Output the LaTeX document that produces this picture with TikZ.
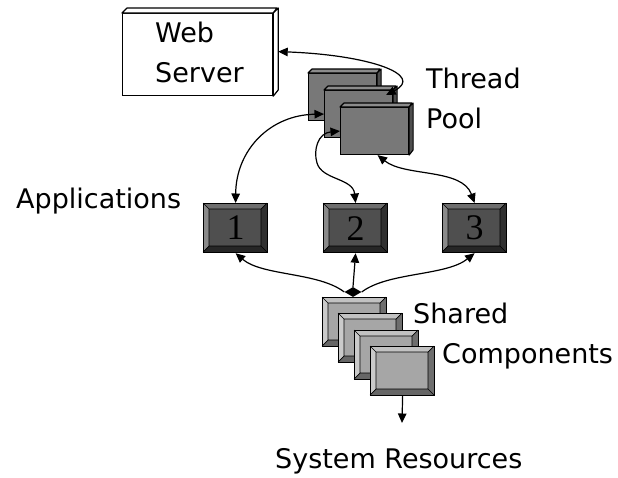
\documentclass[tikz,border=0pt]{standalone}
\usepackage{fontspec}
\setmainfont{DejaVu Sans}
\newfontfamily\numfont{Liberation Serif}
\usetikzlibrary{arrows.meta,shapes.geometric}

% dark bevelled boxes (applications)
\definecolor{dkmid}{HTML}{4F4F4F}
\definecolor{dktop}{HTML}{6E6E6E}
\definecolor{dkleft}{HTML}{8A8A8A}
\definecolor{dkright}{HTML}{303030}
\definecolor{dkbot}{HTML}{262626}
% light bevelled boxes (shared components)
\definecolor{ltmid}{HTML}{A6A6A6}
\definecolor{lttop}{HTML}{C2C2C2}
\definecolor{ltleft}{HTML}{CACACA}
\definecolor{ltright}{HTML}{6E6E6E}
\definecolor{ltbot}{HTML}{666666}
% thread pool slabs
\definecolor{tpfront}{HTML}{787878}
\definecolor{tptop}{HTML}{8C8C8C}
\definecolor{tpside}{HTML}{4E4E4E}

\tikzset{
  x=1pt, y=-1pt,
  lbl/.style={inner sep=0pt, anchor=base west, align=left,
              font=\fontsize{27}{40}\selectfont},
  bevframe/.style={draw, line width=1.2pt, minimum width=64pt, minimum height=49pt,
                   inner sep=0pt, anchor=north west,
                   font=\numfont\fontsize{36}{36}\selectfont},
  bevline/.style={line width=0.7pt},
  slab/.style={draw, fill=tpfront, line width=1.1pt, minimum width=68pt,
               minimum height=47pt, inner sep=0pt, anchor=north west},
  facetop/.style={fill=tptop, draw, line width=1.1pt, line join=round},
  faceside/.style={fill=tpside, draw, line width=1.1pt, line join=round},
  tip/.tip={Triangle[length=9.5pt,width=8.5pt]},
  link/.style={line width=1.2pt, tip-tip},
  oneway/.style={line width=1.2pt, -tip},
}

% bevelled box: name, x, y, colour prefix, text
\newcommand\bevelbox[5]{%
  \begin{scope}[shift={(#2,#3)}]
    \fill[#4mid] (0,0) rectangle (64,49);
    \fill[#4top] (0,0) -- (64,0) -- (58,6) -- (6,6) -- cycle;
    \fill[#4left] (0,0) -- (6,6) -- (6,43) -- (0,49) -- cycle;
    \fill[#4right] (64,0) -- (58,6) -- (58,43) -- (64,49) -- cycle;
    \fill[#4bot] (0,49) -- (6,43) -- (58,43) -- (64,49) -- cycle;
    \draw[bevline] (6,6) rectangle (58,43)
      (0,0) -- (6,6) (64,0) -- (58,6) (0,49) -- (6,43) (64,49) -- (58,43);
  \end{scope}
  \node[bevframe] (#1) at (#2,#3) {#5};
}

% thread-pool slab with a thin top and side face: name, x, y
\newcommand\slabbox[3]{%
  \node[slab] (#1) at (#2,#3) {};
  \path[facetop] (#1.north west) -- ++(4,-4) -- ++(68,0) -- (#1.north east) -- cycle;
  \path[faceside] (#1.north east) -- ++(4,-4) -- ++(0,47) -- (#1.south east) -- cycle;
}

\begin{document}
\begin{tikzpicture}
  \fill[white] (0,0) rectangle (618,477);
  \useasboundingbox (0,0) rectangle (618,477);

  % web server
  \node[draw, fill=white, line width=1.2pt, minimum width=150pt, minimum height=82pt,
        inner sep=0pt, anchor=north west] (web) at (122,13) {};
  \path[draw, fill=white, line width=1.2pt, line join=round]
    (web.north west) -- ++(5,-5) -- ++(150,0) -- (web.north east) -- cycle;
  \path[draw, fill=white, line width=1.2pt, line join=round]
    (web.north east) -- ++(5,-5) -- ++(0,82) -- (web.south east) -- cycle;
  % anchor of a two-line label is the baseline of its last line
  \node[lbl] (weblbl) at (155,82) {Web\\Server};

  % thread pool
  \slabbox{tp1}{308}{73}
  \slabbox{tp2}{324}{90}
  \slabbox{tp3}{340}{107}
  \node[lbl] (tplbl) at (426,128) {Thread\\Pool};

  % applications
  \bevelbox{app1}{203}{203}{dk}{1}
  \bevelbox{app2}{323}{203}{dk}{2}
  \bevelbox{app3}{442}{203}{dk}{3}
  \node[lbl] (applbl) at (16,208) {Applications};

  % shared components
  \bevelbox{sc1}{322}{297}{lt}{}
  \bevelbox{sc2}{338}{313}{lt}{}
  \bevelbox{sc3}{354}{330}{lt}{}
  \bevelbox{sc4}{370}{346}{lt}{}
  \node[lbl] (shlbl) at (413,323) {Shared};
  \node[lbl] (cmplbl) at (442,363) {Components};

  % system resources
  \node[lbl] (syslbl) at (275,468) {System Resources};
  \coordinate (sysin) at (402,423);

  % hub joining the applications to the shared components
  \node[diamond, fill=black, inner sep=0pt, minimum width=17pt, minimum height=10pt]
    (hub) at (353,292) {};

  % connectors
  \draw[link] ([shift={(5pt,3pt)}]web.east)
    .. controls (370,55) and (425,75) .. ([shift={(-7pt,-5pt)}]tp2.north east);
  \draw[link] (app1.north) .. controls (236,150) and (270,115) .. (tp2.west);
  \draw[link] (tp3.west) .. controls (318,133) and (313,150) .. (317,163)
    .. controls (322,180) and (353,178) .. (app2.north);
  \draw[link] ([xshift=3pt]tp3.south) .. controls (405,177) and (462,168) .. (app3.north);

  \draw[oneway] (hub.north) -- (app2.south);
  \draw[oneway] (hub.west) .. controls (318,272) and (262,276) .. (app1.south);
  \draw[oneway] (hub.east) .. controls (388,272) and (446,276) .. (app3.south);

  \draw[oneway] (sc4.south) -- (sysin);
\end{tikzpicture}
\end{document}
